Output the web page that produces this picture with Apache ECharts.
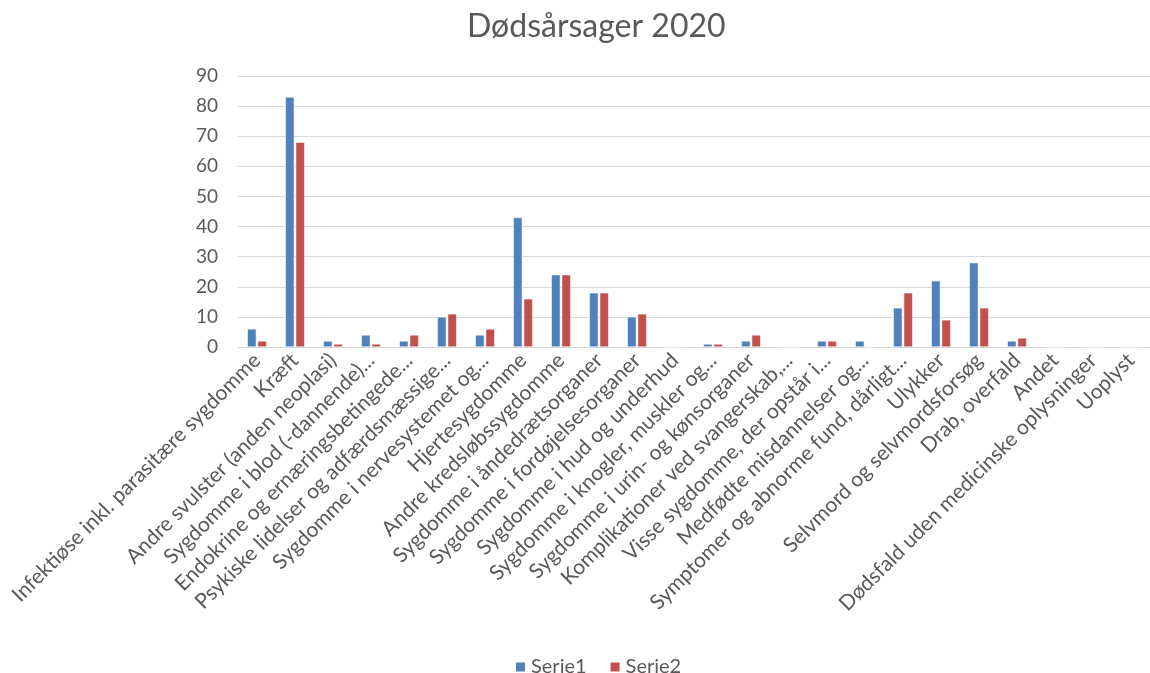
<!DOCTYPE html>
<html>
<head>
<meta charset="utf-8">
<script src="https://cdn.jsdelivr.net/npm/echarts@6/dist/echarts.min.js"></script>
<style>html,body{margin:0;padding:0;background:#fff}#c{width:1150px;height:673px}</style>
</head>
<body>
<div id="c"></div>
<script>
const categories = [
  "Infektiøse inkl. parasitære sygdomme",
  "Kræft",
  "Andre svulster (anden neoplasi)",
  "Sygdomme i blod (-dannende)...",
  "Endokrine og ernæringsbetingede...",
  "Psykiske lidelser og adfærdsmæssige...",
  "Sygdomme i nervesystemet og...",
  "Hjertesygdomme",
  "Andre kredsløbssygdomme",
  "Sygdomme i åndedrætsorganer",
  "Sygdomme i fordøjelsesorganer",
  "Sygdomme i hud og underhud",
  "Sygdomme i knogler, muskler og...",
  "Sygdomme i urin- og kønsorganer",
  "Komplikationer ved svangerskab,...",
  "Visse sygdomme, der opstår i...",
  "Medfødte misdannelser og...",
  "Symptomer og abnorme fund, dårligt...",
  "Ulykker",
  "Selvmord og selvmordsforsøg",
  "Drab, overfald",
  "Andet",
  "Dødsfald uden medicinske oplysninger",
  "Uoplyst"
];
const serie1 = [6, 83, 2, 4, 2, 10, 4, 43, 24, 18, 10, 0, 1, 2, 0, 2, 2, 13, 22, 28, 2, 0, 0, 0];
const serie2 = [2, 68, 1, 1, 4, 11, 6, 16, 24, 18, 11, 0, 1, 4, 0, 2, 0, 18, 9, 13, 3, 0, 0, 0];
const seriesNames = ["Serie1", "Serie2"];
const yTicks = {min: 0, max: 90, interval: 10};

const font = "Lato, 'Open Sans', sans-serif";
const chart = echarts.init(document.getElementById('c'));
chart.setOption({
  animation: false,
  title: {
    text: "Dødsårsager 2020",
    left: 462, top: 6,
    textStyle: {fontFamily: font, fontSize: 32, fontWeight: 'normal', color: '#595959'}
  },
  legend: {
    top: 652, left: 509,
    itemWidth: 11, itemHeight: 11, itemGap: 22,
    icon: 'rect',
    textStyle: {fontFamily: font, fontSize: 20, color: '#595959'},
    data: seriesNames
  },
  grid: {left: 238, right: 0, top: 76, bottom: 326, containLabel: false},
  xAxis: {
    type: 'category',
    data: categories,
    axisLine: {lineStyle: {color: '#D9D9D9', width: 1}},
    axisTick: {show: false},
    axisLabel: {interval: 0, rotate: 45, fontFamily: font, fontSize: 21, color: '#595959', margin: 10}
  },
  yAxis: {
    type: 'value',
    min: yTicks.min, max: yTicks.max, interval: yTicks.interval,
    axisLine: {show: false},
    axisTick: {show: false},
    splitLine: {lineStyle: {color: '#D9D9D9', width: 1}},
    axisLabel: {fontFamily: font, fontSize: 19, color: '#595959', margin: 20}
  },
  series: [
    {name: seriesNames[0], type: 'bar', data: serie1, barWidth: 9, barGap: '15%',
     itemStyle: {color: '#4F81BD', borderColor: '#fff', borderWidth: 0.5}},
    {name: seriesNames[1], type: 'bar', data: serie2, barWidth: 9,
     itemStyle: {color: '#C0504D', borderColor: '#fff', borderWidth: 0.5}}
  ]
});
</script>
</body>
</html>
